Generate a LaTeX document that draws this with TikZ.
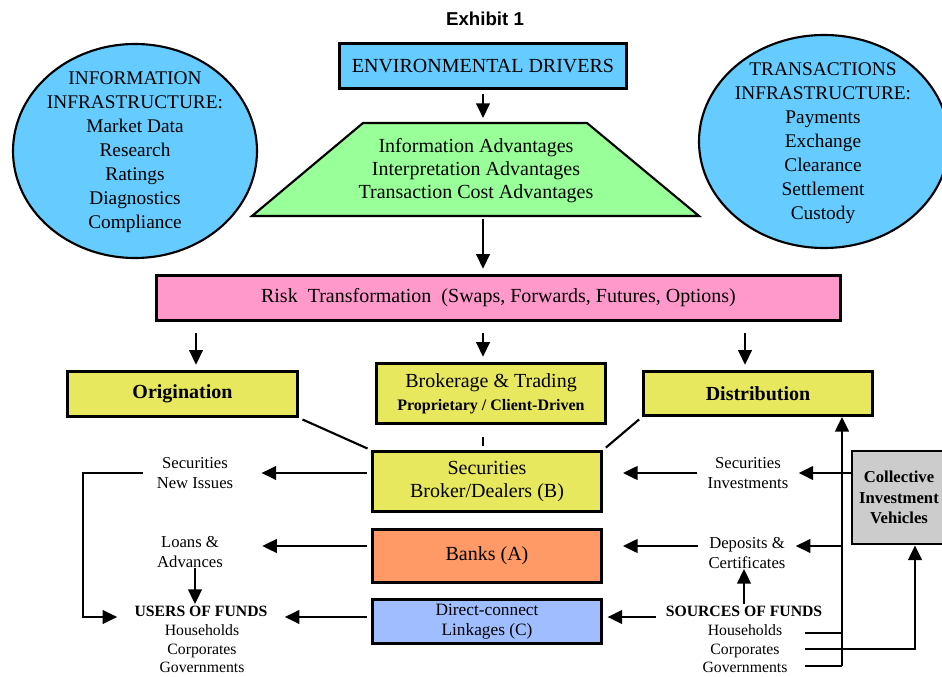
\documentclass[tikz,border=0pt]{standalone}
\usepackage{fontspec}
\setmainfont{Liberation Serif}
\newfontfamily\headfont{Liberation Sans}
\usetikzlibrary{arrows.meta,shapes.geometric}
\definecolor{skyfill}{HTML}{66CCFF}
\definecolor{mintfill}{HTML}{99FF99}
\definecolor{pinkfill}{HTML}{FF99CC}
\definecolor{lemonfill}{HTML}{E8E85E}
\definecolor{peachfill}{HTML}{FF9966}
\definecolor{bluefill}{HTML}{A0BEFF}
\definecolor{greyfill}{HTML}{CCCCCC}
\newcommand{\px}{0.75pt}
\newcommand{\boxfont}{\fontsize{15}{17.4}\selectfont}
\newcommand{\ovalfont}{\fontsize{14.5}{18}\selectfont}
\newcommand{\sidefont}{\fontsize{12.5}{15}\selectfont}
\newcommand{\listfont}{\fontsize{11.8}{13.9}\selectfont}
\begin{document}
\begin{tikzpicture}[x=0.75pt,y=-0.75pt,
    box/.style={draw,line width=2pt,inner sep=0pt,align=center,font=\boxfont},
    oval/.style={draw,ellipse,line width=1.6pt,fill=skyfill,inner sep=0pt},
    lbl/.style={align=center,inner ysep=0pt,font=\sidefont},
    arr/.style={line width=2.2pt,-{Triangle[length=11pt,width=10pt]}},
    link/.style={line width=2.2pt},
    slant/.style={line width=1.6pt,shorten <=3pt,shorten >=3pt}]
    \useasboundingbox (0,0) rectangle (942,677);
    \clip (0,0) rectangle (942,677);

    \coordinate (advTop) at (483,123);
    \coordinate (advBot) at (483,216);
    \coordinate (colL) at (196,0);
    \coordinate (colM) at (483,0);
    \coordinate (colR) at (745,0);
    \coordinate (rowB) at (0,473);
    \coordinate (rowA) at (0,546);
    \coordinate (rowC) at (0,617);
    \coordinate (railL) at (83,617);
    \coordinate (rail) at (842,666);
    \coordinate (stubH) at (805,633);
    \coordinate (stubC) at (805,649);
    \coordinate (stubG) at (805,666);

    \node[font={\headfont\fontsize{14}{16}\selectfont\bfseries}] (title) at (485,19) {Exhibit 1};

    \node[oval,minimum width=244*\px,minimum height=214*\px] (infoOval) at (135,151) {};
    \node[font=\ovalfont,align=center] (infoTxt) at (135,152) {INFORMATION\\INFRASTRUCTURE:\\Market Data\\Research\\Ratings\\Diagnostics\\Compliance};
    \node[oval,minimum width=250*\px,minimum height=213*\px] (transOval) at (824,141.5) {};
    \node[font=\ovalfont,align=center] (transTxt) at (823,143) {TRANSACTIONS\\INFRASTRUCTURE:\\Payments\\Exchange\\Clearance\\Settlement\\Custody};

    \node[box,fill=skyfill,minimum width=287*\px,minimum height=45*\px] (env) at (483,66) {ENVIRONMENTAL DRIVERS};
    \draw[line width=1.6pt,fill=mintfill] (252,216) -- (363,123) -- (587,123) -- (699,216) -- cycle;
    \node[align=center,font={\fontsize{15}{17.3}\selectfont}] (adv) at (476,171) {Information Advantages\\Interpretation Advantages\\Transaction Cost Advantages};
    \node[box,fill=pinkfill,minimum width=684*\px,minimum height=45*\px] (risk) at (498.5,298) {Risk\ \ Transformation\ \ (Swaps, Forwards, Futures, Options)};

    \node[box,fill=lemonfill,font={\boxfont\bfseries},minimum width=230*\px,minimum height=45*\px] (orig) at (182.5,394) {Origination};
    \node[box,fill=lemonfill,minimum width=229*\px,minimum height=60*\px] (brok) at (491,393.5) {Brokerage \& Trading\\{\fontsize{12}{14}\selectfont\bfseries Proprietary / Client-Driven}};
    \node[box,fill=lemonfill,font={\boxfont\bfseries},minimum width=229*\px,minimum height=44*\px] (dist) at (758,393.5) {Distribution};

    \node[box,fill=lemonfill,minimum width=229*\px,minimum height=60*\px] (sbd) at (487,481.5) {Securities\\Broker/Dealers (B)};
    \node[box,fill=peachfill,minimum width=229*\px,minimum height=53*\px] (banks) at (487,556) {Banks (A)};
    \node[box,fill=bluefill,font={\fontsize{13}{15}\selectfont},minimum width=229*\px,minimum height=44*\px] (direct) at (487,621.5) {Direct-connect\\Linkages (C)};
    \node[box,fill=greyfill,minimum width=102*\px,minimum height=93*\px] (coll) at (903,497.5) {};
    \node[align=center,font={\fontsize{12.5}{15.5}\selectfont\bfseries}] (collTxt) at (899,497.5) {Collective\\Investment\\Vehicles};

    \node[lbl,inner xsep=28*\px] (secIssue) at (195,473) {Securities\\New Issues};
    \node[lbl,inner xsep=39*\px] (loans) at (190,552) {Loans \&\\Advances};
    \node[font={\listfont\bfseries},inner xsep=17*\px,inner ysep=1pt] (usersT) at (201,611) {USERS OF FUNDS};
    \node[font=\listfont,align=center] (usersL) at (202,649) {Households\\Corporates\\Governments};

    \node[lbl,inner xsep=10*\px] (secInv) at (748,473) {Securities\\Investments};
    \node[lbl,inner xsep=10*\px] (deposits) at (747,553) {Deposits \&\\Certificates};
    \node[font={\listfont\bfseries},inner xsep=10*\px,inner ysep=1pt] (sourcesT) at (744,611) {SOURCES OF FUNDS};
    \node[font=\listfont,align=center] (sourcesL) at (745,649) {Households\\Corporates\\Governments};

    \draw[arr,shorten <=3pt,shorten >=3.7pt] (env) -- (advTop);
    \draw[arr,shorten <=2.3pt,shorten >=4pt] (advBot) -- (risk.north -| advBot);
    \draw[arr,shorten <=8.5pt,shorten >=4pt] (risk.south -| colL) -- (orig.north -| colL);
    \draw[arr,shorten <=8.5pt,shorten >=4pt] (risk.south -| colM) -- (brok.north -| colM);
    \draw[arr,shorten <=8.5pt,shorten >=4pt] (risk.south -| colR) -- (dist.north -| colR);
    \draw[slant] (orig.south east) -- (sbd.north west);
    \draw[slant] (dist.south west) -- (sbd.north east);
    \draw[line width=2pt] (483,437) -- (483,446);

    \draw[arr,shorten <=3pt] (sbd.west |- rowB) -- (secIssue.east |- rowB);
    \draw[arr,shorten <=3pt] (banks.west |- rowA) -- (loans.east |- rowA);
    \draw[arr,shorten <=3pt] (direct.west |- rowC) -- (usersT.east |- rowC);
    \draw[arr] ([xshift=14*\px]secIssue.west) -| (railL) -- (usersT.west |- railL);
    \draw[arr] ([xshift=5*\px]loans.south) -- ([xshift=-6*\px]usersT.north);

    \draw[arr,shorten >=15pt] (secInv.west |- rowB) -- (sbd.east |- rowB);
    \draw[arr,shorten >=15pt] (deposits.west |- rowA) -- (banks.east |- rowA);
    \draw[arr,shorten >=3.5pt] (sourcesT.west |- rowC) -- (direct.east |- rowC);
    \draw[arr] (sourcesT.north) -- (deposits.south -| sourcesT.north);
    \draw[arr] (coll.west |- rowB) -- (secInv.east |- rowB);
    \draw[arr] (rail) -- (rail |- dist.south);
    \draw[arr] (rail |- rowA) -- (deposits.east |- rowA);
    \draw[link] (stubH) -- (stubH -| rail);
    \draw[link] (stubG) -- (rail);
    \draw[arr] (stubC) -| ([xshift=12*\px]coll.south);
\end{tikzpicture}
\end{document}
